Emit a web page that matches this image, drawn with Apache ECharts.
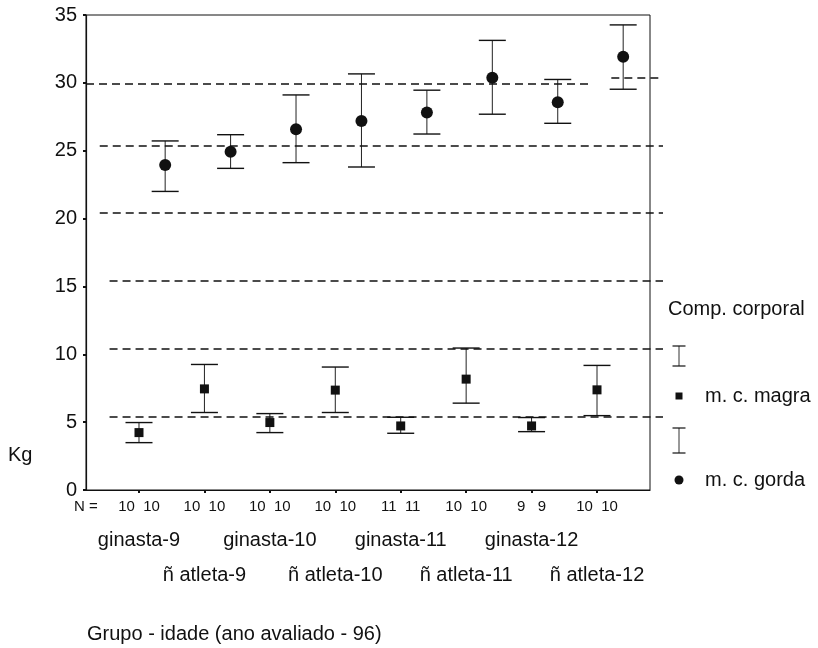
<!DOCTYPE html>
<html>
<head>
<meta charset="utf-8">
<script src="https://cdn.jsdelivr.net/npm/echarts@6/dist/echarts.min.js"></script>
<style>html,body{margin:0;padding:0;background:#fff;}#c{width:818px;height:648px;}</style>
</head>
<body>
<div id="c"></div>
<script>
// ---- data ----
const groups = ['ginasta-9','ñ atleta-9','ginasta-10','ñ atleta-10','ginasta-11','ñ atleta-11','ginasta-12','ñ atleta-12'];
const nMagra = [10,10,10,10,11,10,9,10];
const nGorda = [10,10,10,10,11,10,9,10];
const magraMean = [4.23, 7.45, 4.97, 7.36, 4.72, 8.17, 4.72, 7.38];
const magraLow  = [3.49, 5.71, 4.23, 5.71, 4.18, 6.40, 4.30, 5.48];
const magraHigh = [4.97, 9.25, 5.63, 9.06, 5.36, 10.46, 5.34, 9.18];
const gordaMean = [23.94, 24.93, 26.58, 27.19, 27.81, 30.37, 28.57, 31.92];
const gordaLow  = [22.00, 23.70, 24.12, 23.80, 26.23, 27.69, 27.02, 29.53];
const gordaHigh = [25.72, 26.18, 29.11, 30.66, 29.46, 33.13, 30.25, 34.27];
const refLineValues = [29.97, 25.37, 20.43, 15.42, 10.44, 5.40];
const refLineBreakValue = 30.34;
const yTicks = [0, 5, 10, 15, 20, 25, 30, 35];

// ---- layout / style ----
const FONT = "'Liberation Sans', Arial, sans-serif";
const INK = '#111';
const X_MIN = -0.81, X_MAX = 7.81, X_MAX_WIDE = 8.01;
const GORDA_OFFSET = 0.4;
const refStarts = [-0.81, -0.6, -0.6, -0.45, -0.45, -0.45];
const idx = groups.map((g, i) => i);

const magraBars = idx.map(i => [i, magraLow[i], magraHigh[i]]);
const gordaBars = idx.map(i => [i + GORDA_OFFSET, gordaLow[i], gordaHigh[i]]);
const magraPts = idx.map(i => [i, magraMean[i]]);
const gordaPts = idx.map(i => [i + GORDA_OFFSET, gordaMean[i]]);

function errRender(params, api) {
  const x = api.value(0), lo = api.value(1), hi = api.value(2);
  const a = api.coord([x, lo]), b = api.coord([x, hi]);
  const w = 13.5;
  const st = {stroke: '#222', lineWidth: 1};
  return {type: 'group', children: [
    {type: 'line', shape: {x1: a[0], y1: a[1], x2: b[0], y2: b[1]}, style: st},
    {type: 'line', shape: {x1: a[0]-w, y1: a[1], x2: a[0]+w, y2: a[1]}, style: {stroke: '#111', lineWidth: 1.4}},
    {type: 'line', shape: {x1: b[0]-w, y1: b[1], x2: b[0]+w, y2: b[1]}, style: {stroke: '#111', lineWidth: 1.4}}
  ]};
}

const refData = [];
refLineValues.forEach((v, k) => {
  if (k === 0) {
    refData.push([{coord: [refStarts[k], v]}, {coord: [6.9, v]}]);
    refData.push([{coord: [7.22, refLineBreakValue]}, {coord: [X_MAX_WIDE, refLineBreakValue]}]);
  } else {
    refData.push([{coord: [refStarts[k], v]}, {coord: [X_MAX_WIDE, v]}]);
  }
});

const chart = echarts.init(document.getElementById('c'));
const legendX = 679;
const labelAxis = (customVals, margin) => ({
  gridIndex: 1, type: 'value', position: 'bottom', offset: 0, min: X_MIN, max: X_MAX,
  axisLine: {show: false, onZero: false}, axisTick: {show: false}, splitLine: {show: false},
  axisLabel: {customValues: customVals, margin: margin, fontSize: 20, color: INK, fontFamily: FONT,
    formatter: v => groups[Math.round(v)]}
});

chart.setOption({
  animation: false,
  backgroundColor: '#fff',
  textStyle: {fontFamily: FONT, color: INK},
  grid: [
    {left: 86, right: 155, top: 15, bottom: 158, show: false, outerBoundsMode: 'none', containLabel: false},
    {left: 86, right: 168, top: 15, bottom: 158, show: true, borderColor: INK, borderWidth: 1,
     backgroundColor: 'transparent', outerBoundsMode: 'none', containLabel: false}
  ],
  xAxis: [
    {gridIndex: 1, type: 'value', position: 'bottom', min: X_MIN, max: X_MAX,
     axisLine: {show: true, onZero: false, lineStyle: {color: INK, width: 1.2}},
     axisTick: {show: true, length: 3, customValues: idx, lineStyle: {color: INK, width: 2}},
     splitLine: {show: false},
     axisLabel: {customValues: [X_MIN].concat(idx), margin: 9, fontSize: 15, color: INK, fontFamily: FONT,
       formatter: v => v < -0.5 ? 'N =' : (nMagra[Math.round(v)] + (nMagra[Math.round(v)] < 10 ? '   ' : '  ') + nGorda[Math.round(v)])}},
    labelAxis(idx.filter(i => i % 2 === 0), 40),
    labelAxis(idx.filter(i => i % 2 === 1), 75),
    {gridIndex: 0, type: 'value', min: X_MIN, max: X_MAX_WIDE, show: false}
  ],
  yAxis: [
    {gridIndex: 1, type: 'value', position: 'left', min: 0, max: 35, interval: 5,
     axisLine: {show: true, onZero: false, lineStyle: {color: INK, width: 1.2}},
     axisTick: {show: true, length: 3, lineStyle: {color: INK, width: 2}},
     splitLine: {show: false},
     axisLabel: {margin: 9, fontSize: 20, color: INK, fontFamily: FONT}},
    {gridIndex: 0, type: 'value', min: 0, max: 35, show: false}
  ],
  series: [
    {type: 'scatter', xAxisIndex: 3, yAxisIndex: 1, data: [], z: 1, silent: true,
     markLine: {silent: true, symbol: ['none', 'none'], label: {show: false}, animation: false,
       lineStyle: {color: INK, type: [8, 5], width: 1.5}, emphasis: {disabled: true}, data: refData}},
    {type: 'custom', name: 'magra bars', xAxisIndex: 0, yAxisIndex: 0, renderItem: errRender, data: magraBars, z: 3,
     encode: {x: 0, y: [1, 2]}},
    {type: 'custom', name: 'gorda bars', xAxisIndex: 0, yAxisIndex: 0, renderItem: errRender, data: gordaBars, z: 3,
     encode: {x: 0, y: [1, 2]}},
    {type: 'scatter', name: 'm. c. magra', xAxisIndex: 0, yAxisIndex: 0, data: magraPts, symbol: 'rect', symbolSize: 9,
     itemStyle: {color: INK, opacity: 1}, z: 4},
    {type: 'scatter', name: 'm. c. gorda', xAxisIndex: 0, yAxisIndex: 0, data: gordaPts, symbol: 'circle', symbolSize: 12,
     itemStyle: {color: INK, opacity: 1}, z: 4}
  ],
  graphic: [
    {type: 'text', left: 8, top: 445, style: {text: 'Kg', font: '20px ' + FONT, fill: INK}},
    {type: 'text', left: 87, top: 624, style: {text: 'Grupo - idade (ano avaliado - 96)', font: '20px ' + FONT, fill: INK}},
    {type: 'text', left: 668, top: 299, style: {text: 'Comp. corporal', font: '20px ' + FONT, fill: INK}},
    {type: 'line', shape: {x1: legendX, y1: 346, x2: legendX, y2: 366}, style: {stroke: '#333', lineWidth: 1}},
    {type: 'line', shape: {x1: legendX-6.5, y1: 346, x2: legendX+6.5, y2: 346}, style: {stroke: INK, lineWidth: 1.2}},
    {type: 'line', shape: {x1: legendX-6.5, y1: 366, x2: legendX+6.5, y2: 366}, style: {stroke: INK, lineWidth: 1.2}},
    {type: 'rect', shape: {x: legendX-3.5, y: 392.5, width: 7, height: 7}, style: {fill: INK}},
    {type: 'text', x: 705, y: 396, style: {text: 'm. c. magra', font: '20px ' + FONT, fill: INK, verticalAlign: 'middle'}},
    {type: 'line', shape: {x1: legendX, y1: 428, x2: legendX, y2: 453}, style: {stroke: '#333', lineWidth: 1}},
    {type: 'line', shape: {x1: legendX-6.5, y1: 428, x2: legendX+6.5, y2: 428}, style: {stroke: INK, lineWidth: 1.2}},
    {type: 'line', shape: {x1: legendX-6.5, y1: 453, x2: legendX+6.5, y2: 453}, style: {stroke: INK, lineWidth: 1.2}},
    {type: 'circle', shape: {cx: legendX, cy: 480, r: 4.5}, style: {fill: INK}},
    {type: 'text', x: 705, y: 480, style: {text: 'm. c. gorda', font: '20px ' + FONT, fill: INK, verticalAlign: 'middle'}}
  ]
});
</script>
</body>
</html>
